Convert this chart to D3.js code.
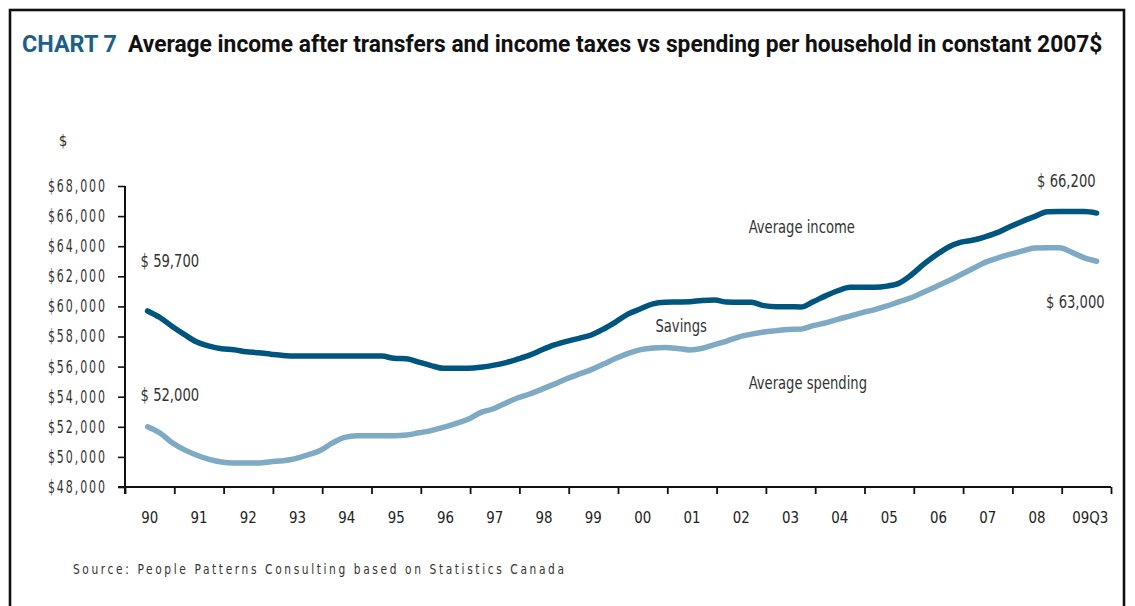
<!DOCTYPE html>
<html>
<head>
<meta charset="utf-8">
<script src="https://cdn.jsdelivr.net/npm/d3@7/dist/d3.min.js"></script>
<style>
  html, body { margin: 0; padding: 0; background: #fff; }
  svg { display: block; }
  .narrow { font-family: "DejaVu Sans Condensed", "DejaVu Sans", sans-serif; }
  .heading { font-family: Roboto, "DejaVu Sans Condensed", sans-serif; font-weight: bold; }
</style>
</head>
<body>
<svg id="chart" width="1135" height="606"></svg>
<script>
// Quarterly series, 1990 Q2 through 2009 Q3, constant 2007 dollars per household
const firstYear = 1990;
const firstQuarter = 2;

const incomeValues = [
  59700, 59260, 58665, 58125, 57630, 57360, 57190, 57120, 56985, 56920, 56825, 56740,
  56700, 56700, 56700, 56700, 56700, 56700, 56700, 56700, 56550, 56520, 56300, 56070,
  55890, 55890, 55890, 55950, 56080, 56250, 56490, 56760, 57120, 57440, 57680, 57880,
  58100, 58500, 58980, 59500, 59840, 60170, 60270, 60290, 60310, 60400, 60420, 60290,
  60270, 60270, 60050, 59980, 59980, 59960, 60310, 60700, 61040, 61270, 61270, 61270,
  61350, 61560, 62120, 62820, 63430, 63950, 64270, 64410, 64640, 64920, 65310, 65660,
  65980, 66290, 66300, 66300, 66300, 66200
];

const spendingValues = [
  52000, 51590, 50945, 50470, 50110, 49840, 49660, 49600, 49600, 49600, 49680, 49750,
  49890, 50135, 50420, 50930, 51300, 51400, 51410, 51410, 51410, 51450, 51600, 51750,
  51960, 52210, 52495, 52940, 53180, 53550, 53910, 54180, 54500, 54835, 55190, 55505,
  55800, 56170, 56555, 56885, 57130, 57240, 57270, 57210, 57110, 57220, 57460, 57700,
  57980, 58160, 58300, 58390, 58470, 58490, 58720, 58900, 59140, 59360, 59590, 59790,
  60030, 60320, 60590, 60960, 61330, 61700, 62120, 62530, 62940, 63220, 63470, 63690,
  63880, 63900, 63900, 63590, 63220, 63000
];

const yearLabels = ["90","91","92","93","94","95","96","97","98","99",
                    "00","01","02","03","04","05","06","07","08","09Q3"];
const yTickValues = [48000, 50000, 52000, 54000, 56000, 58000, 60000, 62000, 64000, 66000, 68000];

// Series labels and the start/end value call-outs
const seriesNotes = [
  { text: "Average income", year: 2002.65, value: 64850 },
  { text: "Savings", year: 2000.76, value: 58300 },
  { text: "Average spending", year: 2002.65, value: 54500 }
];
const valueNotes = [
  { series: "income", index: 0, text: "$ 59,700", dx: -7, dy: -44, anchor: "start" },
  { series: "spending", index: 0, text: "$ 52,000", dx: -7, dy: -26, anchor: "start" },
  { series: "income", index: incomeValues.length - 1, text: "$ 66,200", dx: -1, dy: -26, anchor: "end" },
  { series: "spending", index: spendingValues.length - 1, text: "$ 63,000", dx: 8, dy: 47, anchor: "end" }
];

// Each quarter is placed at the middle of its final month
function periodPosition(i) {
  const q = firstQuarter - 1 + i;
  const year = firstYear + Math.floor(q / 4);
  const quarterIdx = q % 4;
  return year + (quarterIdx * 3 + 2.5) / 12;
}

// Horizontal squeeze for condensed-style lettering
function squeeze(sel, sx) {
  sel.each(function () {
    const t = d3.select(this);
    const x0 = +t.attr("x") || 0, y0 = +t.attr("y") || 0;
    t.attr("x", 0).attr("y", 0)
     .attr("transform", `translate(${x0},${y0}) scale(${sx},1)`);
  });
}
function fitTo(sel, width) {
  const w = sel.node().getComputedTextLength();
  squeeze(sel, width / w);
}

const svg = d3.select("#chart");
svg.append("rect").attr("width", 1135).attr("height", 606).attr("fill", "#fff");

// outer frame
svg.append("rect")
  .attr("x", 10).attr("y", 10).attr("width", 1114).attr("height", 620)
  .attr("fill", "none").attr("stroke", "#111").attr("stroke-width", 2.6);

// title
const chartNo = svg.append("text").attr("class", "heading").attr("x", 22).attr("y", 52)
  .attr("font-size", 24).attr("fill", "#1d5f8c").text("CHART 7");
fitTo(chartNo, 95);
const chartTitle = svg.append("text").attr("class", "heading").attr("x", 128).attr("y", 52)
  .attr("font-size", 24).attr("fill", "#111")
  .text("Average income after transfers and income taxes vs spending per household in constant 2007$");
fitTo(chartTitle, 975);

const x = d3.scaleLinear().domain([1990, 2010]).range([125, 1111]);
const y = d3.scaleLinear().domain([48000, 68000]).range([487, 186]);

// y axis
const yAxis = d3.axisLeft(y).tickValues(yTickValues).tickSize(7).tickPadding(11)
  .tickFormat(d => "$" + d3.format(",")(d));
const gy = svg.append("g").attr("transform", "translate(125,0)").call(yAxis);
gy.select(".domain").remove();
gy.selectAll(".tick line").attr("stroke", "#111").attr("stroke-width", 1.6);
gy.selectAll(".tick text")
  .attr("class", "narrow")
  .attr("font-size", 17).attr("fill", "#333")
  .attr("letter-spacing", 2.7);
squeeze(gy.selectAll(".tick text"), 0.72);
svg.append("line").attr("x1", 125).attr("x2", 125).attr("y1", y(68000)).attr("y2", 494)
  .attr("stroke", "#111").attr("stroke-width", 2);

svg.append("text").attr("class", "narrow").attr("x", 63).attr("y", 146)
  .attr("font-size", 15).attr("fill", "#333").attr("text-anchor", "middle").text("$");

// x axis: ticks on year boundaries, labels centred in each year
const yearTicks = d3.range(1990, 2011);
const xAxis = d3.axisBottom(x).tickValues(yearTicks).tickSize(7).tickFormat("");
const gx = svg.append("g").attr("transform", `translate(0,${y(48000)})`).call(xAxis);
gx.select(".domain").remove();
gx.selectAll(".tick line").attr("stroke", "#111").attr("stroke-width", 1.8);
svg.append("line").attr("x1", 118).attr("x2", x(2010)).attr("y1", y(48000)).attr("y2", y(48000))
  .attr("stroke", "#111").attr("stroke-width", 2);

const yearText = svg.append("g").selectAll("text").data(yearLabels).join("text")
  .attr("class", "narrow")
  .attr("x", (d, i) => x(firstYear + i + 0.5) + (i === yearLabels.length - 1 ? 4 : 0))
  .attr("y", 523)
  .attr("text-anchor", "middle")
  .attr("font-size", 16.5).attr("fill", "#222")
  .text(d => d);
squeeze(yearText, 0.9);

// series lines
const line = d3.line()
  .x((d, i) => x(periodPosition(i)))
  .y(d => y(d))
  .curve(d3.curveMonotoneX);

svg.append("path").datum(spendingValues)
  .attr("d", line).attr("fill", "none")
  .attr("stroke", "#7eaac4").attr("stroke-width", 5.5)
  .attr("stroke-linecap", "round").attr("stroke-linejoin", "round");

svg.append("path").datum(incomeValues)
  .attr("d", line).attr("fill", "none")
  .attr("stroke", "#00557f").attr("stroke-width", 5.5)
  .attr("stroke-linecap", "round").attr("stroke-linejoin", "round");

// labels
const noteText = svg.append("g").selectAll("text").data(seriesNotes).join("text")
  .attr("class", "narrow")
  .attr("x", d => x(d.year)).attr("y", d => y(d.value))
  .attr("font-size", 17).attr("fill", "#333")
  .text(d => d.text);
squeeze(noteText, 0.86);

const seriesByName = { income: incomeValues, spending: spendingValues };
const valueText = svg.append("g").selectAll("text").data(valueNotes).join("text")
  .attr("class", "narrow")
  .attr("x", d => x(periodPosition(d.index)) + d.dx)
  .attr("y", d => y(seriesByName[d.series][d.index]) + d.dy)
  .attr("text-anchor", d => d.anchor)
  .attr("font-size", 17).attr("fill", "#333")
  .text(d => d.text);
squeeze(valueText, 0.86);

// source line
const source = svg.append("text").attr("class", "narrow")
  .attr("x", 73).attr("y", 574)
  .attr("font-size", 13.5).attr("fill", "#333").attr("letter-spacing", 3)
  .text("Source: People Patterns Consulting based on Statistics Canada");
fitTo(source, 494);
</script>
</body>
</html>
